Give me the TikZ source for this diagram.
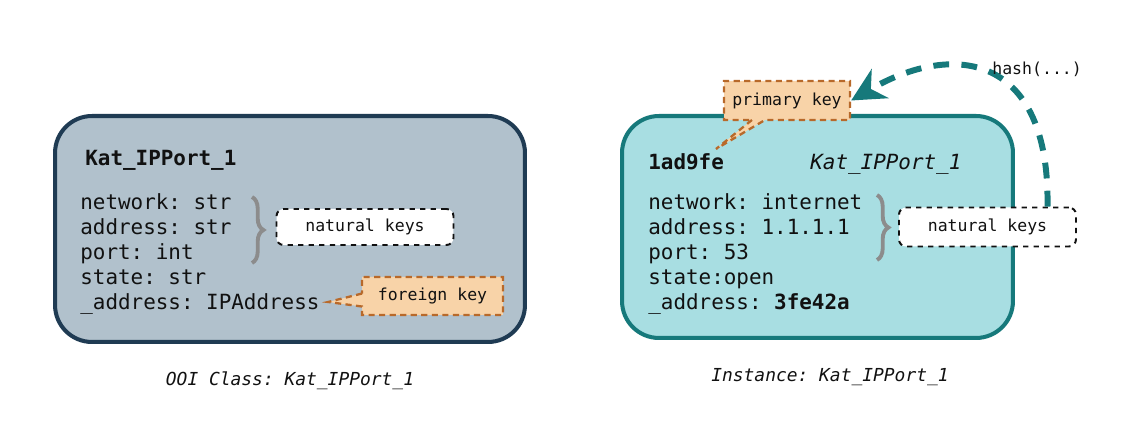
\documentclass[tikz,border=0pt]{standalone}
\usepackage{fontspec}
\setmonofont{DejaVu Sans Mono}
\usepackage{tikz}
\usetikzlibrary{calc,arrows.meta,positioning,decorations.pathreplacing,shapes.callouts}
\definecolor{tinta}{HTML}{111111}
\definecolor{pizarra}{HTML}{1F3B53}
\definecolor{niebla}{HTML}{B1C1CC}
\definecolor{petroleo}{HTML}{16797B}
\definecolor{agua}{HTML}{A8DEE2}
\definecolor{melon}{HTML}{F8D3A8}
\definecolor{cobre}{HTML}{B8692A}
\definecolor{gris}{HTML}{8C8C8C}

\begin{document}
\begin{tikzpicture}[x=0.02cm,y=-0.02cm,
      caja/.style={rounded corners=21pt,line width=2.3pt,inner sep=0pt},
      campo/.style={font=\fontsize{11.9}{14}\selectfont\ttfamily,text=tinta,
                    anchor=base west,inner sep=0pt},
      negrita/.style={campo,font=\fontsize{11.9}{14}\selectfont\ttfamily\bfseries},
      chico/.style={font=\fontsize{9.4}{11}\selectfont\ttfamily,text=tinta},
      natural/.style={chico,draw=tinta,fill=white,dashed,line width=1.1pt,
                      rounded corners=4pt,minimum width=3.54cm,minimum height=0.78cm},
      clave/.style={chico,rectangle callout,fill=melon,draw=cobre,line width=1.3pt,
                    dash pattern=on 3.5pt off 2.5pt,callout pointer width=0.26cm},
      llave/.style={gris,line width=2.2pt,decorate,decoration={brace,amplitude=6.5pt}},
      pie/.style={font=\fontsize{10.2}{12}\selectfont\ttfamily\itshape,text=tinta}]
  \useasboundingbox (0,0) rectangle (1144,431);

  % OOI class
  \node[caja,draw=pizarra,fill=niebla,minimum width=9.4cm,minimum height=4.52cm]
    (clase) at (290,229) {};
  \node[negrita] (clasetit) at (85,166) {Kat\_IPPort\_1};
  \foreach \i/\txt in {1/network: str,2/address: str,3/port: int,4/state: str,
                        5/\_address: IPAddress}
    \node[campo] (cc\i) at (80,185+25*\i) {\txt};
  \draw[llave] (252,197) -- (252,263);
  \node[natural,minimum height=0.72cm] (nkc) at (365,227) {natural keys};
  \node[clave,minimum width=2.82cm,minimum height=0.76cm,
        callout absolute pointer={(328,302)}] (fk) at (432.5,296) {foreign key};
  \node[pie] (pieclase) at (290,381) {OOI Class: Kat\_IPPort\_1};

  % instance
  \node[caja,draw=petroleo,fill=agua,minimum width=7.82cm,minimum height=4.44cm]
    (inst) at (817.5,227) {};
  \node[negrita] (insthash) at (648,170) {1ad9fe};
  \node[campo,font=\fontsize{11.9}{14}\selectfont\ttfamily\itshape] (insttit)
    at (810,170) {Kat\_IPPort\_1};
  \foreach \i/\txt in {1/network: internet,2/address: 1.1.1.1,3/port: 53,
                        4/state:open,5/\_address: \textbf{3fe42a}}
    \node[campo] (ci\i) at (648,185+25*\i) {\txt};
  \draw[llave] (877,195) -- (877,260);
  \node[natural] (nki) at (987.5,227) {natural keys};
  \node[clave,minimum width=2.52cm,minimum height=0.78cm,
        callout absolute pointer={(716,149)}] (pk) at (787,100.5) {primary key};
  \node[pie] (pieinst) at (830,377) {Instance: Kat\_IPPort\_1};

  % hash
  \draw[petroleo,line width=3.4pt,dash pattern=on 9pt off 7pt,
        -{Stealth[length=19pt,width=19pt,inset=6pt]}]
    ($(nki.north)+(60,0)$) .. controls (1050,55) and (955,40) .. (pk.east);
  \node[chico,anchor=west,inner sep=0pt] (hashtxt) at (992,69) {hash(...)};
\end{tikzpicture}
\end{document}
